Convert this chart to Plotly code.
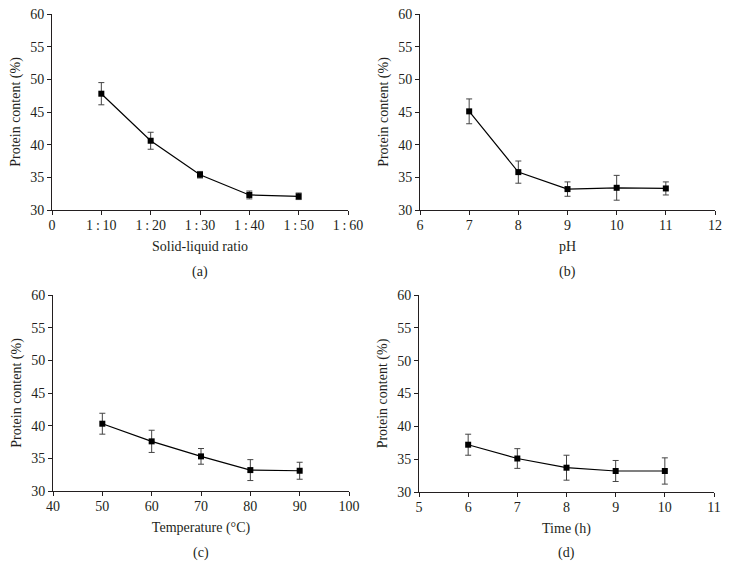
import plotly.graph_objects as go

# Panel (a): solid-liquid ratio
ratio_x = [10, 20, 30, 40, 50]
ratio_y = [47.8, 40.6, 35.4, 32.3, 32.1]
ratio_err = [1.7, 1.3, 0.5, 0.6, 0.5]
ratio_ticks = [0, 10, 20, 30, 40, 50, 60]
ratio_ticktext = ["0", "1\u2009:\u200910", "1\u2009:\u200920", "1\u2009:\u200930",
                  "1\u2009:\u200940", "1\u2009:\u200950", "1\u2009:\u200960"]

# Panel (b): pH
ph_x = [7, 8, 9, 10, 11]
ph_y = [45.1, 35.8, 33.2, 33.4, 33.3]
ph_err = [1.9, 1.7, 1.1, 1.9, 1.0]

# Panel (c): temperature
temp_x = [50, 60, 70, 80, 90]
temp_y = [40.3, 37.6, 35.3, 33.2, 33.1]
temp_err = [1.6, 1.7, 1.2, 1.6, 1.3]

# Panel (d): time
time_x = [6, 7, 8, 9, 10]
time_y = [37.2, 35.1, 33.7, 33.2, 33.2]
time_err = [1.6, 1.5, 1.9, 1.6, 2.0]

W, H = 729, 579
FONT = "Liberation Serif, Times New Roman, serif"
AXC = "#231f20"
FS = 14

panels = [
    dict(x=ratio_x, y=ratio_y, e=ratio_err, xr=[0, 60], px=(52, 348), py=(14, 210),
         title="Solid-liquid ratio", label="(a)", ly=272, tv=ratio_ticks, tt=ratio_ticktext, dt=None),
    dict(x=ph_x, y=ph_y, e=ph_err, xr=[6, 12], px=(420, 715), py=(14, 210),
         title="pH", label="(b)", ly=272, tv=None, tt=None, dt=1),
    dict(x=temp_x, y=temp_y, e=temp_err, xr=[40, 100], px=(53, 349), py=(295, 491),
         title="Temperature (°C)", label="(c)", ly=553, tv=None, tt=None, dt=10),
    dict(x=time_x, y=time_y, e=time_err, xr=[5, 11], px=(419, 714), py=(295, 492),
         title="Time (h)", label="(d)", ly=553, tv=None, tt=None, dt=1),
]

fig = go.Figure()
annotations = []
layout = {}
for i, p in enumerate(panels, start=1):
    xa = "x" if i == 1 else f"x{i}"
    ya = "y" if i == 1 else f"y{i}"
    fig.add_trace(go.Scatter(
        x=p["x"], y=p["y"], xaxis=xa, yaxis=ya, mode="lines+markers",
        line=dict(color="black", width=1.2),
        marker=dict(symbol="square", size=6, color="black"),
        error_y=dict(type="data", array=p["e"], visible=True, color="#444444",
                     thickness=1, width=3),
        showlegend=False, cliponaxis=False,
    ))
    xd = [p["px"][0] / W, p["px"][1] / W]
    yd = [1 - p["py"][1] / H, 1 - p["py"][0] / H]
    xkey = "xaxis" if i == 1 else f"xaxis{i}"
    ykey = "yaxis" if i == 1 else f"yaxis{i}"
    xdict = dict(domain=xd, range=p["xr"], anchor=ya, showline=True, linecolor=AXC,
                 linewidth=1, ticks="outside", ticklen=4, tickcolor=AXC, showgrid=False,
                 zeroline=False, automargin=False, ticklabelstandoff=-2,
                 tickfont=dict(family=FONT, size=FS, color=AXC),
                 title=dict(text=p["title"], font=dict(family=FONT, size=FS, color=AXC), standoff=9))
    if p["tv"] is not None:
        xdict.update(tickmode="array", tickvals=p["tv"], ticktext=p["tt"])
    else:
        xdict.update(dtick=p["dt"], tick0=p["xr"][0])
    layout[xkey] = xdict
    layout[ykey] = dict(domain=yd, range=[30, 60], dtick=5, anchor=xa, showline=True,
                        linecolor=AXC, linewidth=1, ticks="outside", ticklen=4, tickcolor=AXC,
                        showgrid=False, zeroline=False, automargin=False,
                        tickfont=dict(family=FONT, size=FS, color=AXC),
                        title=dict(text="Protein content (%)",
                                   font=dict(family=FONT, size=FS, color=AXC), standoff=6))
    annotations.append(dict(text=p["label"], xref="paper", yref="paper",
                            x=(xd[0] + xd[1]) / 2, y=1 - p["ly"] / H, showarrow=False,
                            font=dict(family=FONT, size=FS, color=AXC),
                            xanchor="center", yanchor="middle"))

fig.update_layout(width=W, height=H, margin=dict(l=0, r=0, t=0, b=0),
                  plot_bgcolor="white", paper_bgcolor="white",
                  annotations=annotations, **layout)
fig.write_html("out.html", config={"displayModeBar": False},
               post_script="document.body.style.margin='0px';document.body.style.overflow='hidden';")
